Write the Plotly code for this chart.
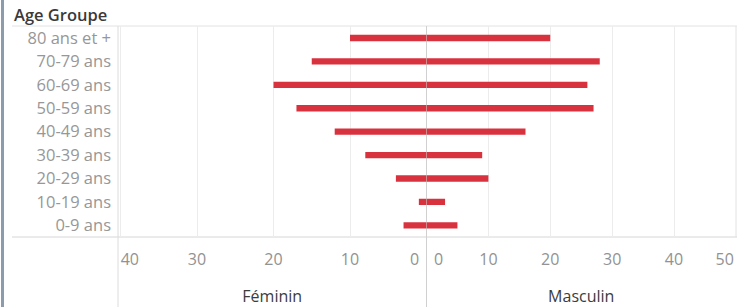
import plotly.graph_objects as go

age_groups = ["0-9 ans", "10-19 ans", "20-29 ans", "30-39 ans", "40-49 ans",
              "50-59 ans", "60-69 ans", "70-79 ans", "80 ans et +"]
feminin = [3, 1, 4, 8, 12, 17, 20, 15, 10]
masculin = [5, 3, 10, 9, 16, 27, 26, 28, 20]

fem_ticks = [40, 30, 20, 10, 0]
fem_ticktext = ["\u2002\u2002\u200940", "30", "20", "10", "0\u2002\u2002\u2002"]
mas_ticks = [0, 10, 20, 30, 40]
mas_ticktext = ["\u2002\u2002\u20020", "10", "20", "30", "40"]
mas_edge_tick = [50]

W, H = 739, 307
BAR = "#d8323f"
FONT = "Open Sans"

fig = go.Figure()
fig.add_trace(go.Bar(y=age_groups, x=feminin, orientation="h", xaxis="x", yaxis="y",
                     marker=dict(color=BAR, line=dict(width=0)), width=0.27,
                     name="Féminin", hoverinfo="x+y"))
fig.add_trace(go.Bar(y=age_groups, x=masculin, orientation="h", xaxis="x2", yaxis="y",
                     marker=dict(color=BAR, line=dict(width=0)), width=0.27,
                     name="Masculin", hoverinfo="x+y"))
# transparent copy bound to the overlay axis that carries the edge tick label
fig.add_trace(go.Bar(y=age_groups, x=masculin, orientation="h", xaxis="x3", yaxis="y",
                     marker=dict(color="rgba(0,0,0,0)", line=dict(width=0)), width=0.27,
                     name="Masculin", hoverinfo="skip"))

x_left, x_mid, x_right = 118, 426.5, 736
y_top, y_bot = 26.3, 237
mas_range = [0, 50.02]

axis_common = dict(showgrid=True, gridcolor="#ececec", gridwidth=1, zeroline=False,
                   showline=False, ticks="", ticklabelstandoff=11, automargin=False,
                   tickfont=dict(family=FONT, size=16, color="#929292"),
                   title_font=dict(family=FONT, size=16, color="#3c3c3c"),
                   fixedrange=True)

fig.update_layout(
    width=W, height=H, margin=dict(l=0, r=0, t=0, b=0, autoexpand=False),
    paper_bgcolor="white", plot_bgcolor="white", showlegend=False, barmode="overlay",
    xaxis=dict(domain=[x_left / W, x_mid / W], range=[(x_mid - x_left) / 7.65, 0],
               tickvals=fem_ticks, ticktext=fem_ticktext, anchor="y",
               title=dict(text="Féminin", standoff=22), **axis_common),
    xaxis2=dict(domain=[x_mid / W, x_right / W], range=mas_range,
                tickvals=mas_ticks, ticktext=mas_ticktext, anchor="y",
                title=dict(text="Masculin", standoff=22), **axis_common),
    xaxis3=dict(domain=[x_mid / W, x_right / W], range=mas_range, overlaying="x2",
                anchor="y", side="bottom", tickvals=mas_edge_tick,
                ticklabelposition="outside left", ticklabelshift=-2,
                ticklabeloverflow="allow",
                showgrid=False, zeroline=False, showline=False, ticks="",
                ticklabelstandoff=11, automargin=False,
                tickfont=dict(family=FONT, size=16, color="#929292"), fixedrange=True),
    yaxis=dict(domain=[1 - y_bot / H, 1 - y_top / H], range=[-0.5, 8.5],
               type="category", categoryorder="array", categoryarray=age_groups,
               showgrid=False, zeroline=False, showline=False, ticks="",
               ticklabelstandoff=6, anchor="x", automargin=False,
               tickfont=dict(family=FONT, size=16.5, color="#979797"), fixedrange=True),
    annotations=[dict(text="Age Groupe", x=12 / W, y=1 - 14 / H, xref="paper", yref="paper",
                      xanchor="left", yanchor="middle", showarrow=False,
                      font=dict(family=FONT, size=16.5, color="#3a3a3a", weight=600))],
)

def hline(y, x0, x1, color="#dcdcdc", w=1):
    fig.add_shape(type="line", xref="paper", yref="paper", x0=x0 / W, x1=x1 / W,
                  y0=1 - y / H, y1=1 - y / H, line=dict(color=color, width=w), layer="below")

def vline(x, y0, y1, color="#dcdcdc", w=1):
    fig.add_shape(type="line", xref="paper", yref="paper", x0=x / W, x1=x / W,
                  y0=1 - y0 / H, y1=1 - y1 / H, line=dict(color=color, width=w), layer="below")

hline(26, 12, 737, "#e2e2e2")
hline(237, 12, 737, "#d6d6d6")
vline(118, 26, 307, "#dcdcdc")
vline(426.5, 26, 307, "#d0d0d0")
vline(736, 26, 237, "#e2e2e2")
vline(2.5, 0, 307, "#8d9bab", 3)

fig.write_html("out.html", config={"displayModeBar": False},
               post_script="document.body.style.margin='0';document.body.style.overflow='hidden';")
